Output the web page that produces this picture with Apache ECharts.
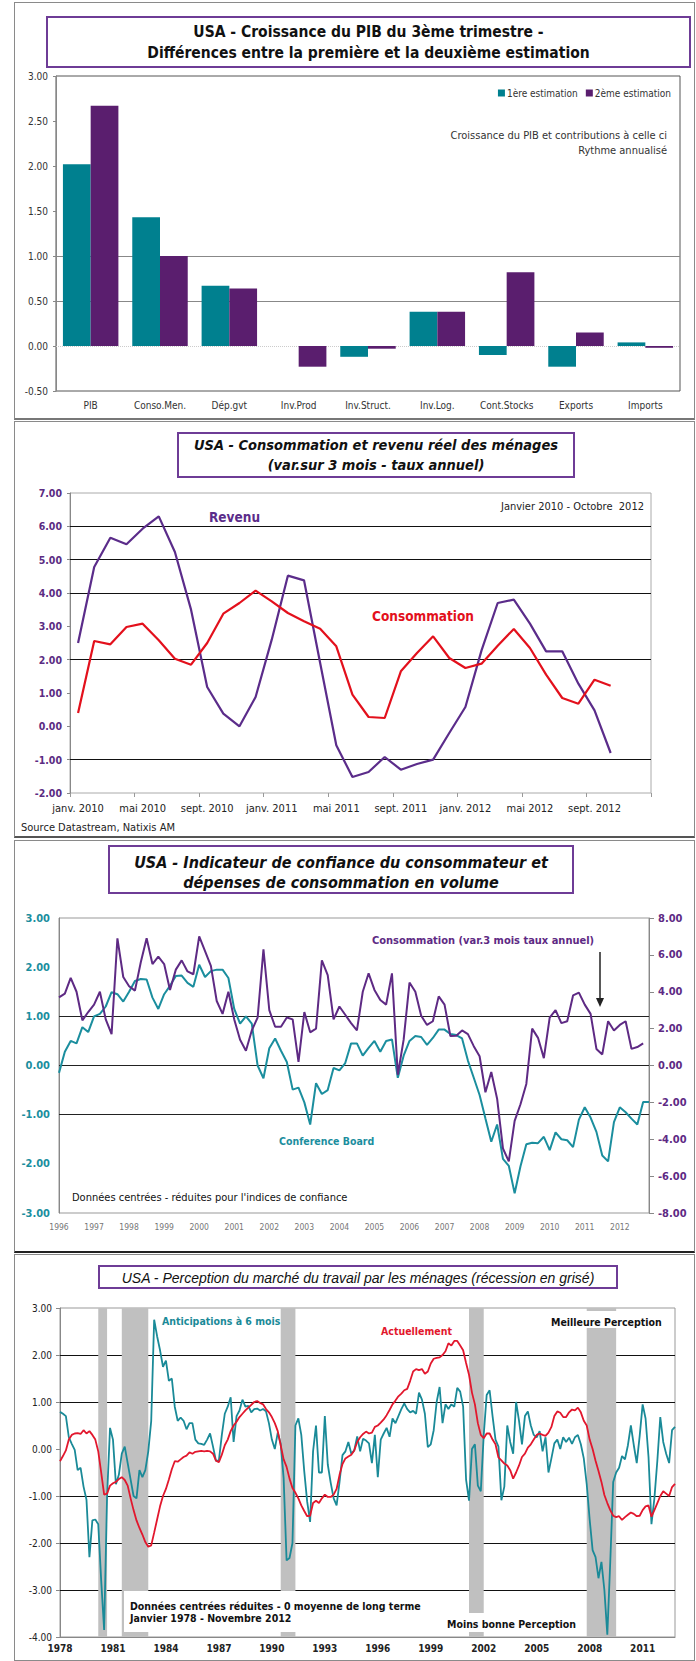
<!DOCTYPE html>
<html>
<head>
<meta charset="utf-8">
<script src="https://cdn.jsdelivr.net/npm/echarts@6/dist/echarts.min.js"></script>
<style>
body{margin:0;width:696px;height:1661px;background:#fff;position:relative;overflow:hidden}
.panel{position:absolute;left:0;width:696px}
.frame{position:absolute;left:14px;width:681px;border:1px solid #8a8a8a;box-sizing:border-box;pointer-events:none}
</style>
</head>
<body>
<div id="c1" class="panel" style="top:0;height:420px"></div>
<div id="c2" class="panel" style="top:421px;height:416px"></div>
<div id="c3" class="panel" style="top:840px;height:412px"></div>
<div id="c4" class="panel" style="top:1254px;height:407px"></div>
<div class="frame" style="top:2px;height:418px;border-bottom:2px solid #777"></div>
<div class="frame" style="top:421px;height:417px;border-bottom:2px solid #555"></div>
<div class="frame" style="top:840px;height:413px;border-bottom:2px solid #222"></div>
<div class="frame" style="top:1254px;height:407px"></div>
<script>
// fonts
const TAHOMA = '"DejaVu Sans Condensed", "DejaVu Sans", sans-serif'
const NARROW = '"Liberation Sans Narrow", "DejaVu Sans Condensed", sans-serif'
const ARIAL = '"Liberation Sans", Arial, sans-serif'

// ---- panel 1 : PIB 3e trimestre
const pibCats = ['PIB', 'Conso.Men.', 'Dép.gvt', 'Inv.Prod', 'Inv.Struct.', 'Inv.Log.', 'Cont.Stocks', 'Exports', 'Imports']
const est1 = [2.02, 1.43, 0.67, 0, -0.12, 0.38, -0.10, -0.23, 0.04]
const est2 = [2.67, 1.00, 0.64, -0.23, -0.03, 0.38, 0.82, 0.15, -0.02]
const grid1Lines = [0.5, 1.0]

// ---- panel 2 : consommation et revenu (janv. 2010 - oct. 2012)
const moisFr = ['janv.', 'févr.', 'mars', 'avr.', 'mai', 'juin', 'juil.', 'août', 'sept.', 'oct.', 'nov.', 'déc.']
const revenu = [2.50, 4.78, 5.66, 5.46, 5.93, 6.30, 5.23, 3.50, 1.18, 0.38, 0.00, 0.88,
  2.60, 4.52, 4.38, 1.90, -0.57, -1.52, -1.37, -0.92, -1.30, -1.13, -1.00, -0.20,
  0.58, 2.28, 3.70, 3.80, 3.08, 2.25, 2.25, 1.28, 0.48, -0.80]
const consommation = [0.40, 2.56, 2.46, 2.98, 3.08, 2.58, 2.03, 1.85, 2.50, 3.38, 3.70, 4.07,
  3.75, 3.40, 3.15, 2.93, 2.40, 0.95, 0.28, 0.25, 1.65, 2.20, 2.70, 2.05,
  1.75, 1.88, 2.42, 2.92, 2.35, 1.55, 0.85, 0.68, 1.40, 1.22]
const grid2Lines = [6, 5, 4, 2, -1]

// ---- panel 3 : confiance (Conference Board) et consommation, tous les 2 mois depuis janv. 1996
const conso3 = [3.7, 3.9, 4.75, 4.0, 2.45, 2.9, 3.3, 4.0, 2.5, 1.7,
  6.9, 4.8, 4.3, 4.06, 5.6, 6.9, 5.5, 5.9, 5.5, 4.1,
  5.2, 5.7, 5.1, 4.95, 7.0, 6.2, 5.4, 3.5, 2.8, 4.0,
  2.5, 1.4, 0.8, 1.9, 2.6, 6.3, 3.0, 2.1, 2.1, 2.6,
  2.5, 0.2, 2.9, 1.8, 2.0, 5.7, 4.9, 2.5, 3.2, 2.75,
  2.3, 1.9, 4.0, 5.0, 4.1, 3.55, 3.3, 5.0, -0.5, 1.4,
  4.5, 4.0, 2.7, 2.2, 2.4, 3.75, 3.3, 1.6, 1.62, 1.9,
  1.7, 1.05, 0.5, -1.45, -0.35, -1.8, -4.5, -5.2, -3.0, -2.1,
  -1.0, 2.0, 1.5, 0.4, 2.6, 3.0, 2.3, 2.4, 3.8, 3.95,
  3.3, 2.8, 0.9, 0.6, 2.4, 1.9, 2.2, 2.4, 0.9, 1.0,
  1.2, null]
const confBoard = [-0.15, 0.28, 0.5, 0.45, 0.78, 0.68, 1.0, 1.05, 1.2, 1.49,
  1.45, 1.3, 1.5, 1.72, 1.76, 1.75, 1.38, 1.15, 1.45, 1.62,
  1.82, 1.83, 1.68, 1.6, 2.05, 1.8, 1.92, 1.95, 1.95, 1.78,
  1.15, 0.85, 1.0, 0.85, 0.0, -0.26, 0.35, 0.55, 0.3, 0.07,
  -0.49, -0.45, -0.75, -1.2, -0.36, -0.58, -0.5, -0.05, -0.1, 0.05,
  0.45, 0.45, 0.2, 0.36, 0.5, 0.28, 0.5, 0.53, -0.25, 0.2,
  0.5, 0.6, 0.58, 0.42, 0.56, 0.73, 0.73, 0.64, 0.62, 0.55,
  0.1, -0.25, -0.6, -1.08, -1.55, -1.2, -1.9, -2.04, -2.6, -2.05,
  -1.6, -1.57, -1.58, -1.45, -1.72, -1.36, -1.5, -1.52, -1.66, -1.1,
  -0.85, -1.06, -1.35, -1.83, -1.95, -1.15, -0.85, -0.95, -1.08, -1.2,
  -0.74, -0.74]
const grid3Lines = [1, 0, -1]

// ---- panel 4 : perception du marché du travail, tous les 2 mois depuis janv. 1978
const anticipations = [0.79, 0.75, 0.70, 0.25, 0.11, -0.02, -0.45, -0.40, -0.8, -1.08,
  -2.30, -1.52, -1.50, -1.6, -2.8, -3.85, -1.0, 0.45, 0.2, -0.75,
  -0.55, -0.1, 0.05, -0.3, -0.65, -1.0, -1.05, -0.45, -0.6, -0.45,
  -0.05, 0.6, 2.75, 2.4, 2.1, 1.75, 1.88, 1.45, 1.5, 0.9,
  0.6, 0.67, 0.6, 0.42, 0.55, 0.55, 0.2, 0.12, 0.11, 0.09,
  0.2, 0.33, 0.05, -0.25, -0.24, 0.3, 0.75, 0.9, 1.1, 0.15,
  0.7, 0.82, 1.05, 0.9, 0.92, 0.78, 0.85, 0.86, 0.82, 0.85,
  0.8, 0.55, 0.2, 0.0, 0.35, 0.11, -0.62, -2.37, -2.32, -2.0,
  0.5, 0.65, 0.3, -0.47, -1.12, -1.55, -0.05, 0.5, -0.5, -0.5,
  0.7, -0.33, -0.72, -1.05, -1.2, -0.7, -0.13, -0.05, 0.15, -0.1,
  -0.03, 0.27, -0.05, 0.22, 0.18, 0.12, -0.3, 0.3, -0.6, 0.2,
  0.33, 0.45, 0.26, 0.65, 0.55, 0.7, 0.85, 0.97, 0.85, 0.78,
  0.81, 0.75, 1.2, 1.05, 0.75, 0.04, 0.1, 0.4, 1.0, 1.32,
  0.55, 0.95, 0.85, 0.95, 0.9, 1.3, 1.22, 0.9, -0.65, -1.1,
  0.0, 0.1, -0.78, -0.9, 0.3, 1.15, 1.25, 0.7, 0.2, 0.05,
  -1.09, -0.8, 0.5, 0.15, -0.1, 1.0, 0.6, 0.1, 0.7, 0.8,
  0.5, 0.3, 0.25, 0.38, -0.05, 0.25, -0.5, -0.2, 0.12, 0.2,
  0.0, 0.25, 0.15, 0.24, 0.11, 0.25, 0.3, 0.1, -0.2, -0.75,
  -1.5, -2.15, -2.3, -2.75, -2.4, -3.0, -3.95, -2.4, -0.7, -0.5,
  -0.4, -0.15, -0.22, 0.08, 0.5, 0.08, -0.3, 0.28, 0.95, 0.65,
  -0.17, -1.6, -1.05, -0.25, 0.68, 0.15, -0.1, -0.3, 0.4, 0.47]
const actuellement = [-0.26, -0.15, -0.03, 0.2, 0.30, 0.33, 0.34, 0.32, 0.40, 0.33,
  0.38, 0.30, 0.2, -0.05, -0.5, -0.97, -0.95, -0.78, -0.73, -0.70,
  -0.64, -0.60, -0.66, -0.78, -1.05, -1.3, -1.52, -1.68, -1.82, -1.98,
  -2.08, -2.05, -1.78, -1.5, -1.22, -1.0, -0.85, -0.65, -0.43, -0.26,
  -0.27, -0.22, -0.17, -0.14, -0.07, -0.10, -0.06, -0.05, -0.04, -0.05,
  -0.04, -0.05, -0.1, -0.25, -0.28, -0.12, 0.08, 0.2, 0.38, 0.5,
  0.58, 0.68, 0.75, 0.82, 0.88, 0.94, 1.0, 1.02, 0.98, 0.95,
  0.85, 0.78, 0.68, 0.55, 0.38, 0.08, -0.22, -0.38, -0.63, -0.83,
  -0.93, -1.05, -1.2, -1.32, -1.43, -1.42, -1.15, -1.1, -1.15, -1.05,
  -0.97, -1.02, -1.02, -0.97, -0.85, -0.55, -0.32, -0.2, -0.16, -0.12,
  -0.03, 0.15, 0.25, 0.32, 0.37, 0.33, 0.35, 0.47, 0.5, 0.56,
  0.63, 0.72, 0.83, 0.95, 1.03, 1.12, 1.18, 1.25, 1.28, 1.45,
  1.65, 1.7, 1.68, 1.7, 1.6, 1.65, 1.82, 1.92, 1.94, 1.95,
  2.0, 2.08, 2.25, 2.2, 2.3, 2.3, 2.2, 2.1, 1.83, 1.58,
  1.2, 0.95, 0.55, 0.3, 0.23, 0.33, 0.33, 0.2, 0.1, -0.18,
  -0.24, -0.31, -0.35, -0.45, -0.63, -0.5, -0.35, -0.17, -0.1, 0.03,
  0.1, 0.2, 0.3, 0.33, 0.3, 0.28, 0.35, 0.47, 0.7, 0.8,
  0.77, 0.68, 0.68, 0.78, 0.84, 0.82, 0.88, 0.78, 0.6, 0.5,
  0.2, 0.0, -0.25, -0.47, -0.7, -0.98, -1.15, -1.3, -1.42, -1.45,
  -1.43, -1.51, -1.45, -1.4, -1.35, -1.38, -1.43, -1.42, -1.3, -1.22,
  -1.2, -1.44, -1.3, -1.15, -1.0, -0.9, -0.95, -1.0, -0.81, -0.74]
const recessions = [['1980-03', '1980-09'], ['1981-07', '1983-01'], ['1990-07', '1991-05'],
  ['2001-03', '2002-01'], ['2007-11', '2009-07']]
const grid4Lines = [2, 1, -1, -2, -3]

// category builders (labels only)
function monthCats(y0, n, step) {
  const out = []
  for (let i = 0; i < n; i++) {
    const m = i * step
    const y = y0 + Math.floor(m / 12)
    const mm = (m % 12) + 1
    out.push(y + '-' + (mm < 10 ? '0' + mm : mm))
  }
  return out
}
const cats2 = []
for (let i = 0; i < 36; i++) cats2.push(moisFr[i % 12] + ' ' + (2010 + Math.floor(i / 12)))
const cats3 = monthCats(1996, conso3.length, 2)
const cats4 = monthCats(1978, anticipations.length, 2)

const fmt2 = v => v.toFixed(2)

function gridMarks(values, color, z) {
  return {
    silent: true,
    symbol: ['none', 'none'],
    z: z || 1,
    label: { show: false },
    lineStyle: { color: color, type: 'solid', width: 1 },
    emphasis: { disabled: true },
    data: values.map(v => ({ yAxis: v }))
  }
}

function titleBox(x, y, w, h, lines, font, cy) {
  const els = [{
    type: 'rect', z: 20,
    shape: { x: x, y: y, width: w, height: h },
    style: { fill: '#fff', stroke: '#6E3C96', lineWidth: 2 }
  }]
  lines.forEach((t, i) => {
    els.push({
      type: 'text', z: 21, x: x + w / 2, y: cy[i],
      style: { text: t, font: font, fill: '#111', textAlign: 'center', textVerticalAlign: 'middle' }
    })
  })
  return els
}

function label(x, y, text, font, color, align) {
  return {
    type: 'text', z: 22, x: x, y: y,
    style: { text: text, font: font, fill: color, textAlign: align || 'left', textVerticalAlign: 'middle' }
  }
}

// ================= chart 1
const chart1 = echarts.init(document.getElementById('c1'), null, { renderer: 'svg' })
chart1.setOption({
  animation: false,
  grid: { left: 56, right: 16, top: 76, bottom: 29, show: true, borderColor: '#555', borderWidth: 1 },
  legend: {
    data: ['1ère estimation', '2ème estimation'],
    right: 20, top: 83, icon: 'rect', itemWidth: 7, itemHeight: 7, itemGap: 8,
    textStyle: { fontSize: 10, fontFamily: TAHOMA, color: '#333', padding: [0, 0, 0, -3] }
  },
  xAxis: {
    type: 'category', data: pibCats,
    axisLine: { show: false }, axisTick: { show: false },
    axisLabel: { interval: 0, fontSize: 10, fontFamily: TAHOMA, color: '#333', margin: 9 }
  },
  yAxis: {
    type: 'value', min: -0.5, max: 3, interval: 0.5,
    axisLine: { show: true, lineStyle: { color: '#888' } },
    axisTick: { show: true, length: 3, lineStyle: { color: '#888' } },
    splitLine: { show: false },
    axisLabel: { formatter: fmt2, fontSize: 10, fontFamily: TAHOMA, color: '#333', margin: 8 }
  },
  series: [
    {
      name: '1ère estimation', type: 'bar', data: est1,
      itemStyle: { color: '#00808F' }, barGap: '0%', barCategoryGap: '20%',
      markLine: {
        silent: true, symbol: ['none', 'none'], z: 1, label: { show: false },
        emphasis: { disabled: true },
        data: grid1Lines.map(v => ({ yAxis: v, lineStyle: { color: '#888', type: 'solid', width: 1 } }))
          .concat([{ yAxis: 0, lineStyle: { color: '#ccc', type: 'dotted', width: 1 } }])
      }
    },
    { name: '2ème estimation', type: 'bar', data: est2, itemStyle: { color: '#5A1E6E' } }
  ],
  graphic: titleBox(47, 17, 643, 50,
    ['USA - Croissance du PIB du 3ème trimestre -', 'Différences entre la première et la deuxième estimation'],
    'bold 15.5px ' + TAHOMA, [32, 53])
    .concat([
      label(667, 135, 'Croissance du PIB et contributions à celle ci', '11px ' + TAHOMA, '#333', 'right'),
      label(667, 150, 'Rythme annualisé', '11px ' + TAHOMA, '#333', 'right')
    ])
})

// ================= chart 2
const chart2 = echarts.init(document.getElementById('c2'), null, { renderer: 'svg' })
chart2.setOption({
  animation: false,
  grid: { left: 70, right: 45, top: 72, bottom: 44, show: true, borderColor: '#aaa', borderWidth: 1 },
  xAxis: [
    {
      type: 'category', data: cats2, boundaryGap: true,
      axisLine: { show: false }, axisTick: { show: false },
      axisLabel: { interval: 3, fontSize: 11, fontFamily: TAHOMA, color: '#222', margin: 10 }
    },
    {
      type: 'category', data: cats2, boundaryGap: true, position: 'bottom',
      axisLine: { show: true, onZero: true, lineStyle: { color: 'rgba(0,0,0,0)' } },
      axisTick: { show: true, interval: 3, length: 4, lineStyle: { color: '#999' } },
      axisLabel: { show: false }
    }
  ],
  yAxis: {
    type: 'value', min: -2, max: 7, interval: 1,
    axisLine: { show: true, lineStyle: { color: '#888' } },
    axisTick: { show: true, length: 3, lineStyle: { color: '#888' } },
    splitLine: { show: false },
    axisLabel: { formatter: fmt2, fontSize: 10.5, fontWeight: 'bold', fontFamily: TAHOMA, color: '#5B2C83', margin: 8 }
  },
  series: [
    {
      name: 'Revenu', type: 'line', data: revenu, showSymbol: false, z: 3,
      lineStyle: { color: '#5B2C8A', width: 2.2 }, itemStyle: { color: '#5B2C8A' },
      markLine: gridMarks(grid2Lines, '#111')
    },
    {
      name: 'Consommation', type: 'line', data: consommation, showSymbol: false, z: 3,
      lineStyle: { color: '#E3101C', width: 2.2 }, itemStyle: { color: '#E3101C' }
    }
  ],
  graphic: titleBox(178, 12, 396, 44,
    ['USA - Consommation et revenu réel des ménages', '(var.sur 3 mois - taux annuel)'],
    'italic bold 14.5px ' + TAHOMA, [24, 44])
    .concat([
      label(644, 85, 'Janvier 2010 - Octobre  2012', '11px ' + TAHOMA, '#222', 'right'),
      label(209, 96, 'Revenu', 'bold 13.5px ' + TAHOMA, '#5B2C8A'),
      label(372, 195, 'Consommation', 'bold 13.5px ' + TAHOMA, '#E3101C'),
      label(21, 406, 'Source Datastream, Natixis AM', '11px ' + TAHOMA, '#222')
    ])
})

// ================= chart 3
const chart3 = echarts.init(document.getElementById('c3'), null, { renderer: 'svg' })
chart3.setOption({
  animation: false,
  grid: { left: 59, right: 47, top: 78, bottom: 39, show: true, borderColor: '#999', borderWidth: 1 },
  xAxis: {
    type: 'category', data: cats3, boundaryGap: false,
    axisLine: { show: false }, axisTick: { show: false },
    axisLabel: { interval: 5, formatter: v => v.slice(0, 4), fontSize: 8.5, fontFamily: NARROW, color: '#777', margin: 9 }
  },
  yAxis: [
    {
      type: 'value', min: -3, max: 3, interval: 1, position: 'left',
      axisLine: { show: true, lineStyle: { color: '#888' } }, axisTick: { show: false },
      splitLine: { show: false },
      axisLabel: { formatter: fmt2, fontSize: 11, fontWeight: 'bold', fontFamily: TAHOMA, color: '#1B8E9E', margin: 9 }
    },
    {
      type: 'value', min: -8, max: 8, interval: 2, position: 'right',
      axisLine: { show: true, lineStyle: { color: '#888' } },
      axisTick: { show: true, length: 5, lineStyle: { color: '#888' } },
      splitLine: { show: false },
      axisLabel: { formatter: fmt2, fontSize: 11, fontWeight: 'bold', fontFamily: TAHOMA, color: '#5E2A84', margin: 9 }
    }
  ],
  series: [
    {
      name: 'Conference Board', type: 'line', data: confBoard, yAxisIndex: 0, showSymbol: false, z: 3,
      lineStyle: { color: '#1B8E9E', width: 2 }, itemStyle: { color: '#1B8E9E' },
      markLine: gridMarks(grid3Lines, '#222')
    },
    {
      name: 'Consommation', type: 'line', data: conso3, yAxisIndex: 1, showSymbol: false, z: 4,
      lineStyle: { color: '#5E2A84', width: 2 }, itemStyle: { color: '#5E2A84' }
    }
  ],
  graphic: titleBox(109, 6, 464, 47,
    ['USA - Indicateur de confiance du consommateur et', 'dépenses de consommation en volume'],
    'italic bold 16px ' + TAHOMA, [22, 42])
    .concat([
      label(372, 100, 'Consommation (var.3 mois taux annuel)', 'bold 11px ' + TAHOMA, '#5E2A84'),
      { type: 'line', z: 22, shape: { x1: 600, y1: 112, x2: 600, y2: 160 }, style: { stroke: '#222', lineWidth: 1.5 } },
      { type: 'polygon', z: 22, shape: { points: [[596, 158], [604, 158], [600, 167]] }, style: { fill: '#222' } },
      label(279, 301, 'Conference Board', 'bold 10.5px ' + TAHOMA, '#1B8E9E'),
      label(72, 357, "Données centrées - réduites pour l'indices de confiance", '11px ' + NARROW, '#111')
    ])
})

// ================= chart 4
const chart4 = echarts.init(document.getElementById('c4'), null, { renderer: 'svg' })
chart4.setOption({
  animation: false,
  grid: { left: 60, right: 21, top: 54, bottom: 24, show: true, borderColor: '#999', borderWidth: 1 },
  xAxis: {
    type: 'category', data: cats4, boundaryGap: false,
    axisLine: { show: true, onZero: false, lineStyle: { color: '#888' } }, axisTick: { show: false },
    axisLabel: { interval: 17, formatter: v => v.slice(0, 4), fontSize: 10, fontWeight: 'bold', fontFamily: NARROW, color: '#222', margin: 6 }
  },
  yAxis: {
    type: 'value', min: -4, max: 3, interval: 1,
    axisLine: { show: true, lineStyle: { color: '#888' } },
    axisTick: { show: true, length: 4, lineStyle: { color: '#888' } },
    splitLine: { show: false },
    axisLabel: { formatter: fmt2, fontSize: 10, fontFamily: NARROW, color: '#222', margin: 8 }
  },
  series: [
    {
      name: 'Anticipations à 6 mois', type: 'line', data: anticipations, showSymbol: false, z: 3,
      lineStyle: { color: '#1A8A98', width: 1.8 }, itemStyle: { color: '#1A8A98' },
      markLine: gridMarks(grid4Lines, '#111', 1),
      markArea: {
        silent: true, z: 2,
        itemStyle: { color: '#C0C0C0' },
        data: recessions.map(r => [{ xAxis: r[0] }, { xAxis: r[1] }])
      }
    },
    {
      name: 'Actuellement', type: 'line', data: actuellement, showSymbol: false, z: 4,
      lineStyle: { color: '#E2172D', width: 1.8 }, itemStyle: { color: '#E2172D' }
    }
  ],
  graphic: titleBox(99, 12, 518, 22,
    ['USA - Perception du marché du travail par les ménages (récession en grisé)'],
    'italic 14px ' + ARIAL, [23.5])
    .concat([
      { type: 'rect', z: 20, shape: { x: 124, y: 337, width: 286, height: 41 }, style: { fill: '#fff' } },
      { type: 'rect', z: 20, shape: { x: 444, y: 359, width: 132, height: 19 }, style: { fill: '#fff' } },
      { type: 'rect', z: 20, shape: { x: 549, y: 57, width: 112, height: 17 }, style: { fill: '#fff' } },
      label(130, 352, 'Données centrées réduites - 0 moyenne de long terme', 'bold 10.5px ' + NARROW, '#111'),
      label(130, 364, 'Janvier 1978 - Novembre 2012', 'bold 10.5px ' + NARROW, '#111'),
      label(447, 370, 'Moins bonne Perception', 'bold 10.5px ' + NARROW, '#111'),
      label(551, 68, 'Meilleure Perception', 'bold 10.5px ' + NARROW, '#111'),
      label(162, 67, 'Anticipations à 6 mois', 'bold 10.5px ' + NARROW, '#1A8A98'),
      label(381, 77, 'Actuellement', 'bold 10.5px ' + NARROW, '#E2172D')
    ])
})
</script>
</body>
</html>
